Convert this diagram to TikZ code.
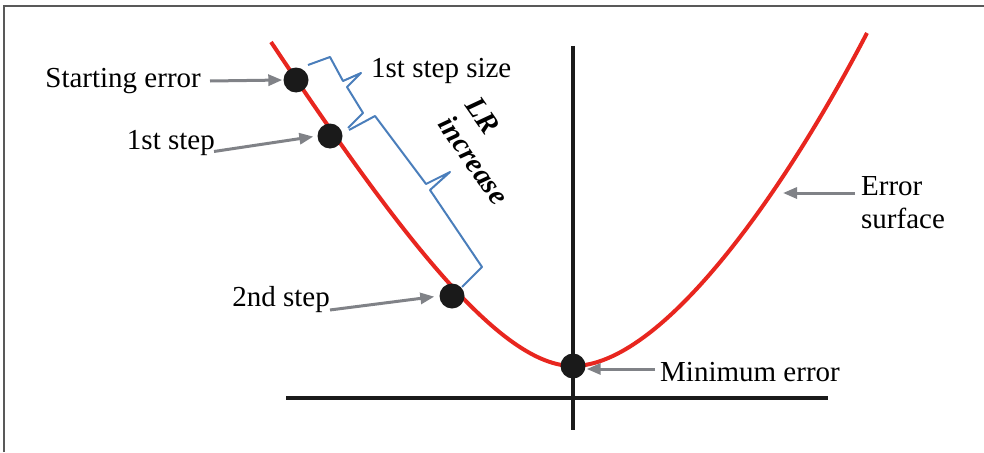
\documentclass[tikz,border=0pt]{standalone}
\usepackage{fontspec}
\setmainfont{Liberation Serif}
\usetikzlibrary{arrows.meta,calc}
\definecolor{errred}{RGB}{232,38,31}
\definecolor{braceblue}{RGB}{74,126,187}
\definecolor{pointgray}{RGB}{128,130,135}
\definecolor{dotblack}{RGB}{26,26,26}

\begin{document}
\begin{tikzpicture}[x=1pt, y=-1pt,
  lbl/.style={font=\fontsize{29}{33}\selectfont, inner sep=0pt},
  errdot/.style={circle, fill=dotblack, minimum size=25pt, inner sep=0pt},
  pointer/.style={-{Triangle[length=14pt,width=11pt]}, line width=3pt, pointgray},
  bracket/.style={braceblue, line width=2pt, line join=round},
  axis/.style={line width=4.5pt, dotblack}]

  \useasboundingbox (0,0) rectangle (984,452);
  % frame
  \draw[line width=2pt, black!65] (4,452) -- (4,6) -- (984,6);

  % axes
  \draw[axis] (286,398) -- (828,398);
  \draw[axis] (573,46) -- (573,430);

  % error surface
  \draw[errred, line width=4pt] (271,42) .. controls (400,235) and (500,366) .. (573,366)
    .. controls (660,366) and (780,200) .. (867,33);

  % braces
  \draw[bracket] (308,65) -- (330,57) -- (343,81) -- (361,73) -- (347,87) -- (363,113) -- (348,128);
  \draw[bracket] (349,130) -- (375,116) -- (426,184) -- (450,172) -- (430,190) -- (482,267) -- (462,287);

  % points on the surface
  \node[errdot] (start) at (296,80) {};
  \node[errdot] (step1) at (330,136) {};
  \node[errdot] (step2) at (452,296) {};
  \node[errdot] (minerr) at (573,366) {};

  % labels
  \node[lbl, anchor=east] (startlbl) at (201,81) {Starting error};
  \node[lbl, anchor=east] (step1lbl) at (215,143) {1st step};
  \node[lbl, anchor=east] (step2lbl) at (330,300) {2nd step};
  \node[lbl, anchor=west] (minlbl) at (660,372) {Minimum error};
  \node[lbl, anchor=west, align=left] (surflbl) at (861,203) {Error\\surface};
  \node[lbl, anchor=west] (sizelbl) at (371,71) {1st step size};
  \node[lbl, font=\fontsize{29}{33}\selectfont\bfseries\itshape, align=left, rotate=-55] (lrlbl) at (487,151) {LR\\increase};

  % pointers
  \coordinate (surf) at (783,193);
  \draw[pointer, shorten >=1pt] ([xshift=9pt]startlbl.east) -- (start.west);
  \draw[pointer, shorten >=4pt] ([xshift=-1pt,yshift=-2pt]step1lbl.base east) -- (step1.west);
  \draw[pointer, shorten >=5pt] ([yshift=-3pt]step2lbl.base east) -- (step2.west);
  \draw[pointer, shorten >=1pt] ([xshift=-5pt,yshift=3pt]minlbl.west) -- ([yshift=-3pt]minerr.east);
  \draw[pointer] ($(surflbl.west |- surf)+(-6,0)$) -- (surf);
\end{tikzpicture}
\end{document}
